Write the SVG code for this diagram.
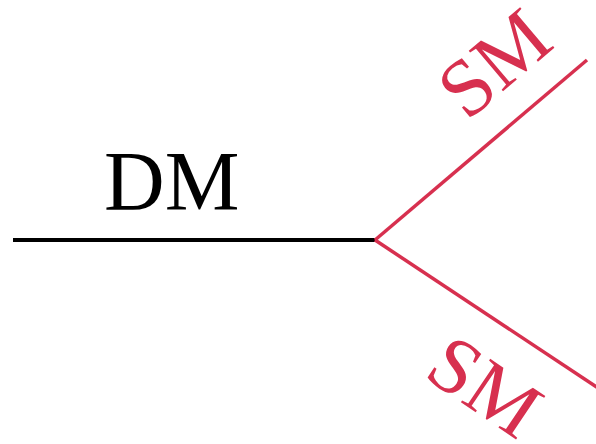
<svg xmlns="http://www.w3.org/2000/svg" width="596" height="444" viewBox="0 0 596 444">
<style>
.lbl{font-family:"Liberation Serif","Times New Roman",serif;}
.red{fill:#d7304f;}
</style>
<rect width="596" height="444" fill="#ffffff"/>
<g id="connectors">
<line x1="13" y1="240" x2="376" y2="240" stroke="#000000" stroke-width="4"/>
<line x1="375" y1="240" x2="587" y2="60" stroke="#d7304f" stroke-width="3.5"/>
<line x1="375" y1="240" x2="598" y2="388" stroke="#d7304f" stroke-width="3.5"/>
</g>
<g id="dm"><text class="lbl" x="104" y="210" font-size="84" fill="#000000">DM</text></g>
<g id="sm-upper"><text class="lbl red" font-size="81" transform="translate(467,122) rotate(-40.3)">SM</text></g>
<g id="sm-lower"><text class="lbl red" font-size="80" transform="translate(422,376) rotate(34)">SM</text></g>
</svg>
